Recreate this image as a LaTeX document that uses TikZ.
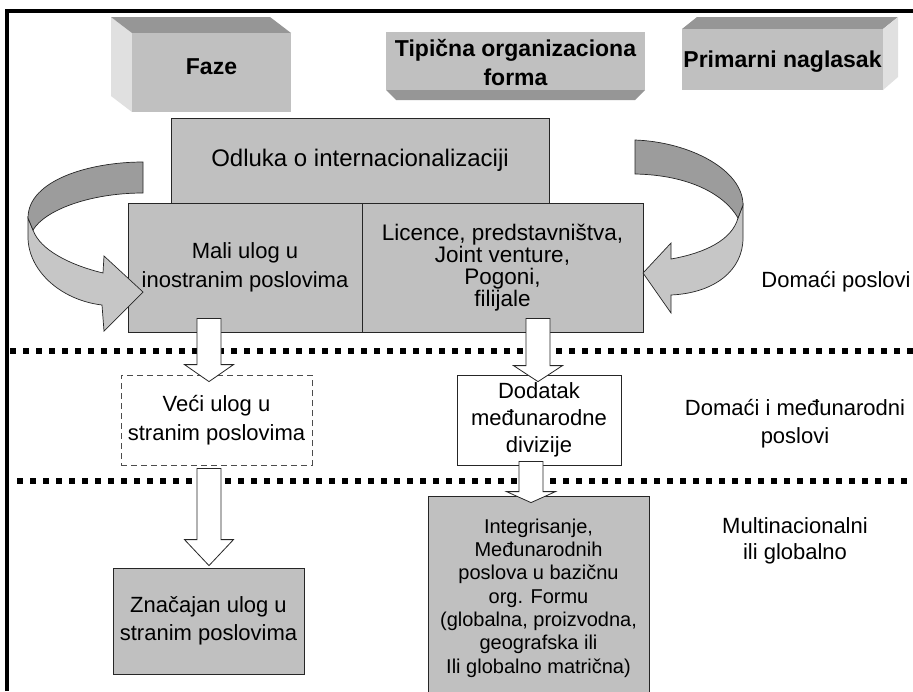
\documentclass[tikz,border=0pt]{standalone}
\usepackage{fontspec}
\setmainfont{Liberation Sans}
\usetikzlibrary{calc}

\definecolor{boxgray}{HTML}{C0C0C0}
\definecolor{facedark}{HTML}{969696}
\definecolor{facelight}{HTML}{E0E0E0}
\definecolor{ribbondark}{HTML}{9C9C9C}
\definecolor{ribbonlight}{HTML}{C6C6C6}

\tikzset{
  frameline/.style={line width=4pt, black},
  dotline/.style={line width=5.5pt, black, dash pattern=on 5.5pt off 7.5pt},
  headfront/.style={fill=boxgray, inner sep=0pt, align=center,
    font=\fontsize{23}{29}\selectfont\bfseries},
  headtop/.style={fill=facedark},
  headside/.style={fill=facelight},
  graybox/.style={draw=black!85, line width=0.8pt, fill=boxgray, inner sep=0pt, align=center},
  whitebox/.style={draw=black!85, line width=0.8pt, fill=white, inner sep=0pt, align=center},
  dashbox/.style={whitebox, draw=black!70, dash pattern=on 6pt off 4pt},
  label/.style={inner sep=0pt, align=center},
  blockarrow/.style={draw=black!85, line width=0.8pt, fill=white},
  ribbonback/.style={draw=black!85, line width=0.7pt, fill=ribbondark},
  ribbonfront/.style={draw=black!85, line width=0.7pt, fill=ribbonlight},
}

% hollow block arrow: #1 start of the shaft, #2 tip, #3 head length
\newcommand{\blockarrow}[3]{%
  \draw[blockarrow] let \p1=(#1), \p2=(#2) in
    (\x1-12pt,\y1) -- (\x1+12pt,\y1) -- (\x1+12pt,\y2+#3pt)
    -- (\x1+24.5pt,\y2+#3pt) -- (\x1,\y2) -- (\x1-24.5pt,\y2+#3pt)
    -- (\x1-12pt,\y2+#3pt) -- cycle;}

\begin{document}
\begin{tikzpicture}[x=1pt,y=-1pt]
\useasboundingbox (0,0) rectangle (913,691);
\clip (0,0) rectangle (913,691);
\fill[white] (0,0) rectangle (913,691);

% frame
\draw[frameline] (7,691) -- (7,11) -- (913,11);

% column headers drawn as bevelled blocks
\fill[headside] (111,17) -- (132,33) -- (132,112) -- (111,96) -- cycle;
\fill[headtop] (111,17) -- (270,17) -- (291,33) -- (132,33) -- cycle;
\node[headfront, minimum width=159, minimum height=79] (faze) at (211.5,72.5) {};
\node[inner sep=0pt, font=\fontsize{23}{29}\selectfont\bfseries] (fazetext)
  at ($(faze.center)+(0,-6)$) {Faze};

\fill[headtop] (386,90) -- (645,90) -- (635,100) -- (396,100) -- cycle;
\node[headfront, minimum width=259, minimum height=58] (tipicna) at (515.5,61) {};
\node[inner sep=0pt, align=center, font=\fontsize{23}{29}\selectfont\bfseries] (tiptext)
  at ($(tipicna.center)+(0,2)$) {Tipična organizaciona\\forma};

\fill[headtop] (682,29) -- (697,17) -- (898,17) -- (883,29) -- cycle;
\fill[headside] (883,29) -- (898,17) -- (898,77) -- (883,90) -- cycle;
\node[headfront, minimum width=201, minimum height=61] (primarni) at (782.5,59.5) {};
\node[inner sep=0pt, font=\fontsize{23}{29}\selectfont\bfseries] (primtext)
  at ($(primarni.center)+(0,2)$) {Primarni naglasak};

% stage separators
\draw[dotline] (10,351) -- (913,351);
\draw[dotline] (17,481) -- (913,481);

% boxes
\node[graybox, minimum width=378, minimum height=85,
  font=\fontsize{24}{27}\selectfont] (odluka) at (360,160.5)
  {Odluka o internacionalizaciji};
\node[graybox, minimum width=234, minimum height=129,
  font=\fontsize{22}{29}\selectfont] (mali) at (245,267.5)
  {Mali ulog u\\inostranim poslovima};
\node[graybox, minimum width=281, minimum height=129,
  font=\fontsize{22.5}{22}\selectfont] (licence) at (502.5,267.5)
  {Licence, predstavništva,\\Joint venture,\\Pogoni,\\filijale};
\node[dashbox, minimum width=191, minimum height=90,
  font=\fontsize{22}{29}\selectfont] (veci) at (216.5,420)
  {Veći ulog u\\stranim poslovima};
\node[whitebox, minimum width=164, minimum height=90,
  font=\fontsize{22}{27}\selectfont] (dodatak) at (539,420)
  {Dodatak\\međunarodne\\divizije};
\node[graybox, minimum width=191, minimum height=106,
  font=\fontsize{22}{28}\selectfont] (znacajan) at (208.5,621)
  {Značajan ulog u\\stranim poslovima};
\node[graybox, minimum width=221, minimum height=204,
  font=\fontsize{20}{23.3}\selectfont] (integr) at (538.5,598)
  {Integrisanje,\\Međunarodnih\\poslova u bazičnu\\org. Formu\\(globalna, proizvodna,\\geografska ili\\Ili globalno matrična)};

% emphasis labels
\node[label, font=\fontsize{22}{28}\selectfont] (domaci) at (836,282) {Domaći poslovi};
\node[label, font=\fontsize{22}{28}\selectfont] (domint) at (795,424)
  {Domaći i međunarodni\\poslovi};
\node[label, font=\fontsize{22}{26}\selectfont] (multi) at (795,541)
  {Multinacionalni\\ili globalno};

% curved ribbon arrows feeding the first stage
\draw[ribbonfront] (28,218) -- (28,237) .. controls (28,270) and (60,300) .. (102,305)
  -- (104,331) -- (143,292) -- (104,256) -- (103,273)
  .. controls (70,265) and (40,250) .. (33,230) -- cycle;
\draw[ribbonback] (143,162) .. controls (90,162) and (28,180) .. (28,218)
  -- (33,230) .. controls (45,210) and (90,193) .. (143,193) -- cycle;

\draw[ribbonfront] (743,205) -- (743,238) .. controls (743,270) and (715,293) .. (671,295)
  -- (671,313) -- (643,273) -- (671,243) -- (671,259)
  .. controls (705,253) and (732,240) .. (738,218) -- cycle;
\draw[ribbonback] (635,140) .. controls (690,142) and (743,170) .. (743,205)
  -- (738,218) .. controls (725,195) and (690,175) .. (635,174) -- cycle;

% stage transitions
\coordinate (a1s) at ($(mali.south)+(-36,-14)$);
\coordinate (a1t) at ($(a1s |- veci.north)+(0,7)$);
\coordinate (a2s) at ($(licence.south)+(35.5,-14)$);
\coordinate (a2t) at ($(a2s |- dodatak.north)+(0,7)$);
\coordinate (a3s) at ($(veci.south)+(-7.5,3)$);
\coordinate (a3t) at ($(a3s |- znacajan.north)+(0,-2)$);
\coordinate (a4s) at ($(dodatak.south)+(-8,-4)$);
\coordinate (a4t) at ($(a4s |- integr.north)+(0,7)$);
\blockarrow{a1s}{a1t}{17}
\blockarrow{a2s}{a2t}{16}
\blockarrow{a3s}{a3t}{26}
\blockarrow{a4s}{a4t}{11}
\end{tikzpicture}
\end{document}
